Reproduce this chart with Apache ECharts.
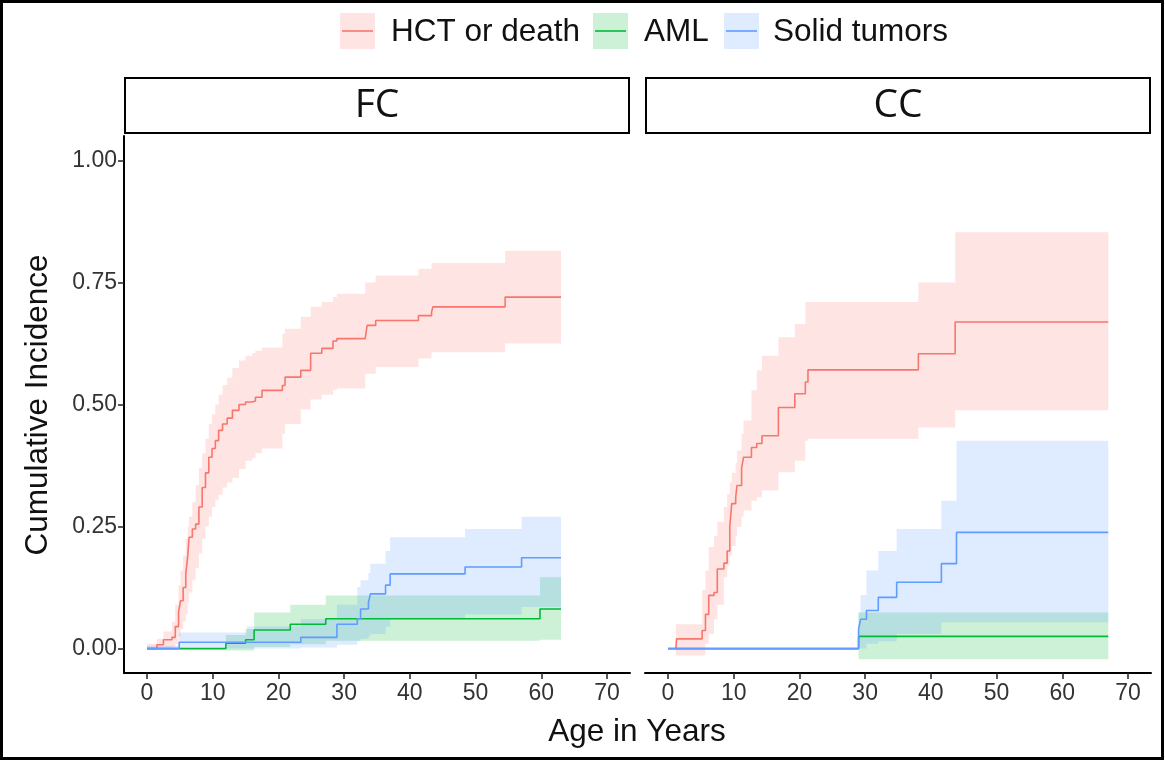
<!DOCTYPE html>
<html><head><meta charset="utf-8">
<script src="https://cdn.jsdelivr.net/npm/echarts@6/dist/echarts.min.js"></script>
<style>html,body{margin:0;padding:0;background:#fff}#c{width:1165px;height:761px}</style>
</head><body><div id="c"></div>
<script>
// ---------- data ----------
const xTicks = [0, 10, 20, 30, 40, 50, 60, 70];
const yTicks = [0, 0.25, 0.5, 0.75, 1];
const panelNames = ['FC', 'CC'];
const outcomeNames = ['HCT or death', 'AML', 'Solid tumors'];

// FC panel — HCT or death
const fcHctT  = [0, 1.5, 2.5, 3.8, 4.3, 4.8, 5.1, 5.5, 5.9, 6.2, 6.4, 6.9, 7.4, 7.9, 8.4, 8.9, 9.4, 9.9, 10.4, 10.9, 11.5, 12.2, 13.0, 14.0, 15.0, 16.0, 16.5, 17.5, 20.6, 21.0, 23.4, 24.9, 26.6, 28.3, 28.9, 33.2, 33.5, 34.8, 41.3, 43.3, 43.5, 54.5, 63];
const fcHctEst= [0, 0.008, 0.018, 0.023, 0.045, 0.075, 0.098, 0.125, 0.153, 0.19, 0.228, 0.245, 0.255, 0.29, 0.33, 0.36, 0.392, 0.41, 0.426, 0.447, 0.46, 0.472, 0.488, 0.50, 0.505, 0.507, 0.515, 0.529, 0.539, 0.556, 0.57, 0.605, 0.615, 0.63, 0.635, 0.638, 0.662, 0.672, 0.682, 0.689, 0.70, 0.72, 0.72];
const fcHctLo = [0, 0, 0, 0.003, 0.01, 0.025, 0.04, 0.055, 0.07, 0.095, 0.115, 0.14, 0.165, 0.195, 0.225, 0.25, 0.27, 0.29, 0.305, 0.315, 0.33, 0.34, 0.35, 0.368, 0.385, 0.39, 0.40, 0.41, 0.44, 0.46, 0.49, 0.51, 0.52, 0.53, 0.533, 0.563, 0.563, 0.577, 0.594, 0.607, 0.607, 0.625, 0.625];
const fcHctHi = [0.01, 0.02, 0.035, 0.055, 0.09, 0.13, 0.16, 0.19, 0.225, 0.25, 0.27, 0.30, 0.335, 0.37, 0.40, 0.43, 0.46, 0.48, 0.50, 0.52, 0.54, 0.555, 0.575, 0.59, 0.60, 0.605, 0.61, 0.617, 0.645, 0.655, 0.68, 0.70, 0.71, 0.72, 0.727, 0.75, 0.75, 0.764, 0.778, 0.79, 0.79, 0.815, 0.815];

// FC panel — AML
const fcAmlT  = [0, 12, 15, 16.3, 21.8, 27.2, 59.8, 63];
const fcAmlEst= [0, 0.011, 0.018, 0.038, 0.05, 0.061, 0.081, 0.081];
const fcAmlLo = [0, -0.004, -0.004, 0.004, 0.009, 0.016, 0.018, 0.018];
const fcAmlHi = [0, 0.028, 0.04, 0.074, 0.09, 0.109, 0.146, 0.146];

// FC panel — Solid tumors
const fcSolT  = [0, 4.9, 15.2, 23.4, 28.9, 32, 32.5, 33.7, 34, 36.3, 37, 48.4, 57, 63];
const fcSolEst= [0, 0.013, 0.013, 0.023, 0.05, 0.061, 0.081, 0.095, 0.112, 0.13, 0.153, 0.167, 0.186, 0.186];
const fcSolLo = [0, 0, 0, 0.002, 0.008, 0.015, 0.02, 0.025, 0.03, 0.045, 0.06, 0.07, 0.085, 0.085];
const fcSolHi = [0.006, 0.033, 0.045, 0.06, 0.09, 0.126, 0.14, 0.155, 0.174, 0.2, 0.228, 0.245, 0.27, 0.27];

// CC panel — HCT or death
const ccHctT  = [1.2, 1.3, 5.2, 5.7, 6.2, 7.0, 7.5, 8.5, 9.0, 9.4, 9.7, 10.3, 10.5, 11.2, 11.5, 12.7, 13.5, 14.3, 16.8, 19.3, 20.9, 21.3, 38.1, 43.7, 67];
const ccHctEst= [0, 0.02, 0.037, 0.07, 0.109, 0.115, 0.163, 0.175, 0.2, 0.25, 0.297, 0.31, 0.334, 0.37, 0.392, 0.412, 0.42, 0.436, 0.494, 0.522, 0.546, 0.571, 0.604, 0.669, 0.669];
const ccHctLo = [-0.014, -0.014, -0.014, 0.01, 0.03, 0.06, 0.09, 0.146, 0.17, 0.19, 0.21, 0.23, 0.249, 0.27, 0.283, 0.303, 0.31, 0.324, 0.361, 0.385, 0.426, 0.43, 0.453, 0.488, 0.488];
const ccHctHi = [0.05, 0.05, 0.12, 0.16, 0.208, 0.23, 0.26, 0.29, 0.317, 0.34, 0.36, 0.38, 0.406, 0.44, 0.467, 0.529, 0.57, 0.60, 0.638, 0.665, 0.71, 0.71, 0.75, 0.853, 0.853];

// CC panel — AML
const ccAmlT  = [0, 29, 67];
const ccAmlEst= [0, 0.025, 0.025];
const ccAmlLo = [0, -0.022, -0.022];
const ccAmlHi = [0, 0.074, 0.074];

// CC panel — Solid tumors
const ccSolT  = [0, 29, 29.3, 30.2, 32, 34.8, 41.6, 43.9, 67];
const ccSolEst= [0, 0.04, 0.06, 0.078, 0.105, 0.136, 0.174, 0.238, 0.238];
const ccSolLo = [0, 0, 0, 0.01, 0.015, 0.03, 0.054, 0.054, 0.054];
const ccSolHi = [0, 0.074, 0.11, 0.16, 0.2, 0.245, 0.303, 0.426, 0.426];

// ---------- styling ----------
const lineColors = ['#F8766D', '#00BA38', '#619CFF'];
const bandColors = ['rgba(248,118,109,0.2)', 'rgba(0,186,56,0.2)', 'rgba(97,156,255,0.2)'];
const FONT = 'Liberation Sans, Arial, sans-serif';

const curves = [
  {g: 0, k: 0, T: fcHctT, E: fcHctEst, L: fcHctLo, H: fcHctHi},
  {g: 0, k: 1, T: fcAmlT, E: fcAmlEst, L: fcAmlLo, H: fcAmlHi},
  {g: 0, k: 2, T: fcSolT, E: fcSolEst, L: fcSolLo, H: fcSolHi},
  {g: 1, k: 0, T: ccHctT, E: ccHctEst, L: ccHctLo, H: ccHctHi},
  {g: 1, k: 1, T: ccAmlT, E: ccAmlEst, L: ccAmlLo, H: ccAmlHi},
  {g: 1, k: 2, T: ccSolT, E: ccSolEst, L: ccSolLo, H: ccSolHi}
];

function bandSeries(c) {
  return {
    type: 'custom', name: outcomeNames[c.k] + ' band ' + panelNames[c.g],
    xAxisIndex: c.g, yAxisIndex: c.g, silent: true, z: 1,
    data: c.T.map((t, i) => [t, c.L[i], c.H[i]]),
    encode: {x: 0, y: [1, 2]},
    renderItem: function (params, api) {
      if (params.dataIndex !== 0) return null;
      const T = c.T, L = c.L, H = c.H, pts = [];
      for (let i = 0; i < T.length - 1; i++) {
        pts.push(api.coord([T[i], H[i]]));
        pts.push(api.coord([T[i + 1], H[i]]));
      }
      for (let i = T.length - 2; i >= 0; i--) {
        pts.push(api.coord([T[i + 1], L[i]]));
        pts.push(api.coord([T[i], L[i]]));
      }
      return {type: 'polygon', shape: {points: pts}, style: {fill: bandColors[c.k], stroke: null}};
    }
  };
}
function lineSeries(c) {
  return {
    type: 'line', name: outcomeNames[c.k], xAxisIndex: c.g, yAxisIndex: c.g,
    step: 'end', symbol: 'none', silent: true, z: 3,
    data: c.T.map((t, i) => [t, c.E[i]]),
    lineStyle: {color: lineColors[c.k], width: 1.6},
    itemStyle: {color: lineColors[c.k]}
  };
}

const grids = [
  {left: 124, top: 136, width: 506, height: 537},
  {left: 645, top: 136, width: 506, height: 537}
];

function xAxisFor(g) {
  return {
    gridIndex: g, type: 'value', min: -3.5, max: 73.5,
    axisLine: {show: true, onZero: false, lineStyle: {color: '#000', width: 2}},
    axisTick: {show: true, customValues: xTicks, length: 6, lineStyle: {color: '#222', width: 1.5}},
    axisLabel: {customValues: xTicks, fontSize: 23, color: '#333', margin: 9, fontFamily: FONT},
    splitLine: {show: false}
  };
}
function yAxisFor(g) {
  const show = g === 0;
  return {
    gridIndex: g, type: 'value', min: -0.05, max: 1.05,
    axisLine: {show: show, onZero: false, lineStyle: {color: '#000', width: 2}},
    axisTick: {show: show, customValues: yTicks, length: 6, lineStyle: {color: '#222', width: 1.5}},
    axisLabel: {show: show, customValues: yTicks, fontSize: 23, color: '#333', margin: 7, fontFamily: FONT,
      formatter: v => v.toFixed(2)},
    splitLine: {show: false}
  };
}

// legend (drawn as graphic: filled key with line through it + text)
const legendKeys = [
  {x: 340, tx: 391}, {x: 593, tx: 644}, {x: 724, tx: 773}
];
const graphics = [];
outcomeNames.forEach((n, k) => {
  const kx = legendKeys[k].x;
  graphics.push({type: 'rect', shape: {x: kx, y: 13, width: 35, height: 36}, style: {fill: bandColors[k]}, silent: true});
  graphics.push({type: 'line', shape: {x1: kx + 2, y1: 31, x2: kx + 33, y2: 31}, style: {stroke: lineColors[k], lineWidth: 1.6}, silent: true});
  graphics.push({type: 'text', x: legendKeys[k].tx, y: 32, style: {text: n, font: '31.5px ' + FONT, fill: '#111', textVerticalAlign: 'middle', textAlign: 'left'}, silent: true});
});
// facet strips
panelNames.forEach((p, g) => {
  const gr = grids[g];
  graphics.push({type: 'rect', shape: {x: gr.left + 1, y: 78, width: gr.width - 2, height: 55}, style: {fill: '#fff', stroke: '#000', lineWidth: 2}, silent: true});
  graphics.push({type: 'text', x: gr.left + gr.width / 2, y: 106, style: {text: p, font: '39px Open Sans, ' + FONT, fill: '#111', textAlign: 'center', textVerticalAlign: 'middle'}, silent: true});
});
// axis titles
graphics.push({type: 'text', x: 637, y: 732, style: {text: 'Age in Years', font: '31.5px ' + FONT, fill: '#111', textAlign: 'center', textVerticalAlign: 'middle'}, silent: true});
graphics.push({type: 'text', x: 38, y: 405, rotation: Math.PI / 2, style: {text: 'Cumulative Incidence', font: '31.5px ' + FONT, fill: '#111', textAlign: 'center', textVerticalAlign: 'middle'}, silent: true});
// outer frame
graphics.push({type: 'rect', shape: {x: 1.5, y: 1.5, width: 1161, height: 757}, style: {fill: null, stroke: '#000', lineWidth: 3}, silent: true});

const series = [];
curves.forEach(c => series.push(bandSeries(c)));
curves.forEach(c => series.push(lineSeries(c)));

const chart = echarts.init(document.getElementById('c'), null, {renderer: 'canvas'});
chart.setOption({
  animation: false,
  backgroundColor: '#fff',
  grid: grids,
  xAxis: [xAxisFor(0), xAxisFor(1)],
  yAxis: [yAxisFor(0), yAxisFor(1)],
  series: series,
  graphic: graphics
});
</script>
</body></html>
